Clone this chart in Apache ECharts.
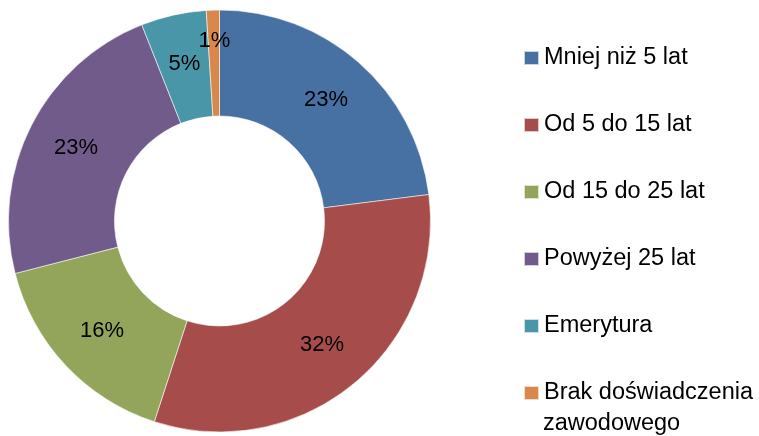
<!DOCTYPE html>
<html>
<head>
<meta charset="utf-8">
<script src="https://cdn.jsdelivr.net/npm/echarts@6/dist/echarts.min.js"></script>
<style>
  html, body { margin: 0; padding: 0; background: #fff; }
  #chart { width: 759px; height: 436px; }
</style>
</head>
<body>
<div id="chart"></div>
<script>
const categories = ['Mniej niż 5 lat', 'Od 5 do 15 lat', 'Od 15 do 25 lat', 'Powyżej 25 lat', 'Emerytura', 'Brak doświadczenia'];
const shares = [23, 32, 16, 23, 5, 1];
const colors = ['#4771a3', '#a64c4a', '#93a55a', '#715b8b', '#4a96a9', '#d8884a'];
const lastLegendLine = 'zawodowego';

const chart = echarts.init(document.getElementById('chart'));
const font = '"Liberation Sans", Arial, sans-serif';

const option = {
  animation: false,
  color: colors,
  legend: {
    orient: 'vertical',
    left: 523,
    top: 46,
    padding: 0,
    itemWidth: 15,
    itemHeight: 14,
    itemGap: 43,
    icon: 'rect',
    selectedMode: false,
    textStyle: {
      fontFamily: font,
      fontSize: 23.5,
      lineHeight: 23,
      color: '#000'
    },
    data: categories
  },
  graphic: [
    {
      type: 'text',
      x: 543,
      y: 424,
      style: {
        text: lastLegendLine,
        fontFamily: font,
        fontSize: 23.5,
        verticalAlign: 'middle',
        fill: '#000'
      }
    }
  ],
  series: [
    {
      type: 'pie',
      center: [219.5, 221],
      radius: [105, 211],
      startAngle: 90,
      clockwise: true,
      percentPrecision: 0,
      itemStyle: {
        borderColor: 'rgba(255,255,255,0.7)',
        borderWidth: 0.8
      },
      label: {
        show: true,
        position: 'inside',
        formatter: '{d}%',
        fontFamily: font,
        fontSize: 22,
        color: '#000'
      },
      labelLine: { show: false },
      labelLayout: (params) => (params.dataIndex === 5 ? { dy: -19 } : {}),
      emphasis: { disabled: true },
      data: categories.map((name, i) => ({ name: name, value: shares[i] }))
    }
  ]
};

chart.setOption(option);
</script>
</body>
</html>
